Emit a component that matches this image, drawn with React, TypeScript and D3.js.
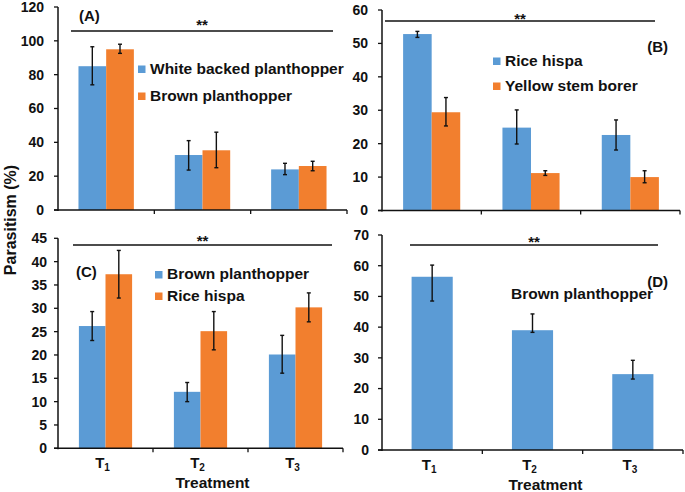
import { range, scaleBand, scaleLinear } from 'd3'

const treatments = ['1', '2', '3']

// (A)
const ticksA = [0, 20, 40, 60, 80, 100, 120]
const whiteBackedA = [85, 32.5, 24]
const whiteBackedALow = [74, 23.6, 20.9]
const whiteBackedAHigh = [96.5, 41, 27.6]
const brownA = [95, 35.3, 26]
const brownALow = [92.6, 25, 23.2]
const brownAHigh = [98, 46, 28.8]

// (B)
const ticksB = [0, 10, 20, 30, 40, 50, 60]
const riceHispaB = [52.8, 24.8, 22.6]
const riceHispaBLow = [51.8, 19.9, 18.1]
const riceHispaBHigh = [53.6, 30.1, 27.1]
const yellowStemB = [29.4, 11.2, 10]
const yellowStemBLow = [25.3, 10.5, 8.3]
const yellowStemBHigh = [33.8, 11.9, 11.9]

// (C)
const ticksC = [0, 5, 10, 15, 20, 25, 30, 35, 40, 45]
const brownC = [26.2, 12.1, 20.1]
const brownCLow = [23.1, 10, 16.1]
const brownCHigh = [29.3, 14.1, 24.2]
const riceHispaC = [37.3, 25.1, 30.2]
const riceHispaCLow = [32.2, 21.1, 27.1]
const riceHispaCHigh = [42.4, 29.3, 33.3]

// (D)
const ticksD = [0, 10, 20, 30, 40, 50, 60, 70]
const brownD = [56.4, 39, 24.7]
const brownDLow = [48.5, 38.3, 23.1]
const brownDHigh = [60.2, 44.3, 29.2]

const BLUE = '#5b9bd5'
const ORANGE = '#f27f2e'
const FONT = '"Liberation Sans", Arial, sans-serif'

interface Series {
  name: string
  values: number[]
  low: number[]
  high: number[]
  color: string
}

interface PanelProps {
  tag: string
  tagPos: { x: number; y: number; anchor?: 'start' | 'end' }
  frame: { left: number; right: number; top: number; bottom: number }
  ticks: number[]
  series: Series[]
  padding: number
  tickGap: number
  sig: { x1: number; x2: number; y: number; starY: number }
  legend: { x: number; y: number; gap: number; swatch: boolean }
  showX: boolean
  titleShift?: number
}

const Panel = ({ tag, tagPos, frame, ticks, series, padding, tickGap, sig, legend, showX, titleShift = 0 }: PanelProps) => {
  const y = scaleLinear()
    .domain([0, ticks[ticks.length - 1]])
    .range([frame.bottom, frame.top])
  const x = scaleBand<string>()
    .domain(treatments)
    .range([frame.left, frame.right])
    .paddingInner(padding)
    .paddingOuter(padding / 2)
  const inner = scaleBand<string>()
    .domain(series.map((s) => s.name))
    .range([0, x.bandwidth()])
  const bounds = range(treatments.length + 1).map((i) => frame.left + i * x.step())

  return (
    <g fontFamily={FONT} fontWeight="bold" fill="#111">
      {series.map((s) =>
        s.values.map((v, i) => (
          <rect
            key={s.name + i}
            x={(x(treatments[i]) ?? 0) + (inner(s.name) ?? 0)}
            y={y(v)}
            width={inner.bandwidth()}
            height={y(0) - y(v)}
            fill={s.color}
          />
        )),
      )}
      {series.map((s) =>
        s.values.map((_, i) => {
          const cx = (x(treatments[i]) ?? 0) + (inner(s.name) ?? 0) + inner.bandwidth() / 2
          return (
            <g key={'e' + s.name + i} stroke="#111" strokeWidth={1.4}>
              <line x1={cx} x2={cx} y1={y(s.low[i])} y2={y(s.high[i])} />
              <line x1={cx - 2} x2={cx + 2} y1={y(s.low[i])} y2={y(s.low[i])} />
              <line x1={cx - 2} x2={cx + 2} y1={y(s.high[i])} y2={y(s.high[i])} />
            </g>
          )
        }),
      )}

      {/* axes */}
      <line x1={frame.left} x2={frame.left} y1={frame.top} y2={frame.bottom + 1} stroke="#111" strokeWidth={1.5} />
      <line x1={frame.left - 4} x2={frame.right} y1={frame.bottom} y2={frame.bottom} stroke="#111" strokeWidth={1.5} />
      {ticks.map((t) => (
        <g key={t}>
          <line x1={frame.left - 4} x2={frame.left} y1={y(t)} y2={y(t)} stroke="#111" strokeWidth={1.3} />
          <text x={frame.left - tickGap} y={y(t)} dy="0.35em" textAnchor="end" fontSize={14}>
            {t}
          </text>
        </g>
      ))}
      {bounds.slice(1).map((b) => (
        <line key={b} x1={b} x2={b} y1={frame.bottom} y2={frame.bottom + 4} stroke="#111" strokeWidth={1.3} />
      ))}
      {showX &&
        treatments.map((t) => (
          <text
            key={t}
            x={(x(t) ?? 0) + x.bandwidth() / 2 - 3}
            y={frame.bottom + 20}
            textAnchor="middle"
            fontSize={15}
          >
            T
            <tspan fontSize={10} dy={3}>
              {t}
            </tspan>
          </text>
        ))}
      {showX && (
        <text
          x={(frame.left + frame.right) / 2 + titleShift}
          y={frame.bottom + 39.5}
          textAnchor="middle"
          fontSize={15.5}
        >
          Treatment
        </text>
      )}

      {/* significance line */}
      <line x1={sig.x1} x2={sig.x2} y1={sig.y} y2={sig.y} stroke="#111" strokeWidth={1.3} />
      <text x={(sig.x1 + sig.x2) / 2} y={sig.starY} textAnchor="middle" fontSize={15}>
        **
      </text>

      <text x={tagPos.x} y={tagPos.y} textAnchor={tagPos.anchor ?? 'start'} fontSize={15}>
        {tag}
      </text>

      {series.map((s, i) => (
        <g key={'l' + s.name}>
          {legend.swatch && (
            <rect x={legend.x} y={legend.y + i * legend.gap - 8} width={7.5} height={7.5} fill={s.color} />
          )}
          <text x={legend.x + (legend.swatch ? 12 : 0)} y={legend.y + i * legend.gap} fontSize={15.5}>
            {s.name}
          </text>
        </g>
      ))}
    </g>
  )
}

const App = () => {
  const seriesA: Series[] = [
    { name: 'White backed planthopper', values: whiteBackedA, low: whiteBackedALow, high: whiteBackedAHigh, color: BLUE },
    { name: 'Brown planthopper', values: brownA, low: brownALow, high: brownAHigh, color: ORANGE },
  ]
  const seriesB: Series[] = [
    { name: 'Rice hispa', values: riceHispaB, low: riceHispaBLow, high: riceHispaBHigh, color: BLUE },
    { name: 'Yellow stem borer', values: yellowStemB, low: yellowStemBLow, high: yellowStemBHigh, color: ORANGE },
  ]
  const seriesC: Series[] = [
    { name: 'Brown planthopper', values: brownC, low: brownCLow, high: brownCHigh, color: BLUE },
    { name: 'Rice hispa', values: riceHispaC, low: riceHispaCLow, high: riceHispaCHigh, color: ORANGE },
  ]
  const seriesD: Series[] = [
    { name: 'Brown planthopper', values: brownD, low: brownDLow, high: brownDHigh, color: BLUE },
  ]

  return (
    <svg
      width={685}
      height={492}
      viewBox="0 0 685 492"
      style={{ position: 'absolute', left: 0, top: 0, background: 'white' }}
    >
      <rect width={685} height={492} fill="white" />
      <Panel
        tag="(A)"
        tagPos={{ x: 79, y: 21 }}
        frame={{ left: 58, right: 347, top: 7, bottom: 210 }}
        ticks={ticksA}
        series={seriesA}
        padding={0.425}
        tickGap={14}
        sig={{ x1: 71, x2: 333, y: 31, starY: 29.5 }}
        legend={{ x: 138, y: 73.5, gap: 27, swatch: true }}
        showX={false}
      />
      <Panel
        tag="(B)"
        tagPos={{ x: 668, y: 52, anchor: 'end' }}
        frame={{ left: 382, right: 680, top: 10, bottom: 210.5 }}
        ticks={ticksB}
        series={seriesB}
        padding={0.425}
        tickGap={14}
        sig={{ x1: 385, x2: 655, y: 21, starY: 24 }}
        legend={{ x: 493, y: 65.5, gap: 25, swatch: true }}
        showX={false}
      />
      <Panel
        tag="(C)"
        tagPos={{ x: 76, y: 277 }}
        frame={{ left: 58, right: 343, top: 238.3, bottom: 448.3 }}
        ticks={ticksC}
        series={seriesC}
        padding={0.44}
        tickGap={11}
        sig={{ x1: 73, x2: 332, y: 245, starY: 245.5 }}
        legend={{ x: 155, y: 279, gap: 21.5, swatch: true }}
        showX={true}
        titleShift={12}
      />
      <Panel
        tag="(D)"
        tagPos={{ x: 668, y: 287, anchor: 'end' }}
        frame={{ left: 382, right: 683, top: 235, bottom: 450 }}
        ticks={ticksD}
        series={seriesD}
        padding={0.59}
        tickGap={13}
        sig={{ x1: 410, x2: 658, y: 245, starY: 246.5 }}
        legend={{ x: 511, y: 299, gap: 0, swatch: false }}
        showX={true}
        titleShift={13}
      />
      <text
        transform="translate(16, 220) rotate(-90)"
        textAnchor="middle"
        fontFamily={FONT}
        fontWeight="bold"
        fontSize={16}
        fill="#111"
      >
        Parasitism (%)
      </text>
    </svg>
  )
}

export default App
